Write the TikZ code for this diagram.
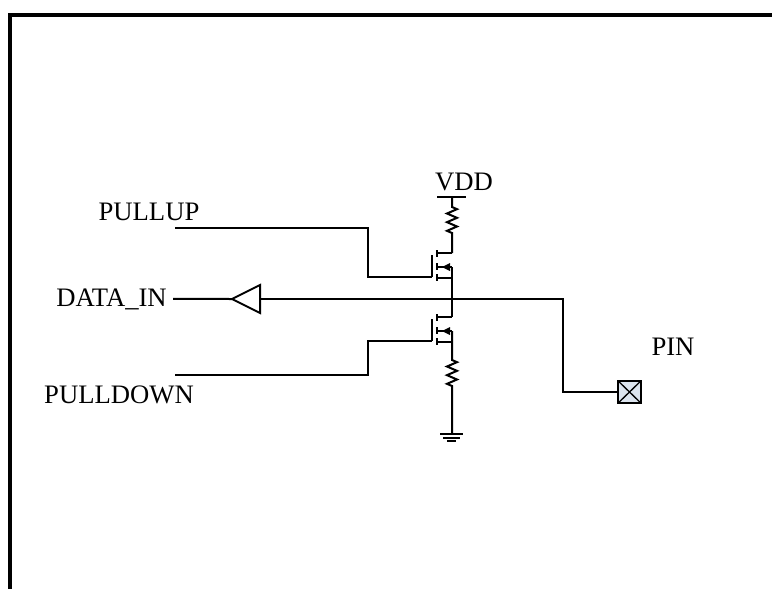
\documentclass[tikz,border=0pt]{standalone}
\usepackage{fontspec}
\setmainfont{Liberation Serif}
\usetikzlibrary{decorations.pathmorphing}

\definecolor{padfill}{HTML}{DCE4EE}

\begin{document}
\begin{tikzpicture}[
            x=0.75pt, y=-0.75pt,
            wire/.style={line width=1.5pt},
            lbl/.style={font=\fontsize{20}{24}\selectfont, inner sep=0pt, anchor=base},
            res/.style={decoration={zigzag, amplitude=3.75pt, segment length=6.5pt}},
            pad/.style={
                draw, line width=1.5pt, fill=padfill,
                minimum width=17pt, minimum height=16.5pt, inner sep=0pt,
                path picture={
                    \draw[line width=1pt] (path picture bounding box.north west) -- (path picture bounding box.south east)
                        (path picture bounding box.south west) -- (path picture bounding box.north east);
                }
            }
        ]
            \useasboundingbox (0,0) rectangle (772,589);
            % frame
            \draw[line width=3pt] (10,589) -- (10,15) -- (772,15);

            % labels
            \node[lbl] (vddlbl) at (464,190) {VDD};
            \node[lbl] (pulluplbl) at (149,220) {PULLUP};
            \node[lbl] (pulldownlbl) at (119,403) {PULLDOWN};
            \node[lbl, anchor=base east, inner xsep=4.5pt] (datainlbl) at (173,306) {DATA\_IN};
            \node[lbl] (pinlbl) at (673,355) {PIN};

            % the two transistors, drawn alike
            \foreach \q/\yy in {qu/253, qd/317} {
                \draw[wire] (432,\yy+2) -- (432,\yy+24) coordinate (\q-g);
                \draw[wire] (437,\yy-3) -- (437,\yy+4)
                            (437,\yy+10) -- (437,\yy+17)
                            (437,\yy+21) -- (437,\yy+28);
                \draw[wire] (437,\yy) -- (452,\yy) coordinate (\q-d);
                \draw[wire] (437,\yy+25) -- (452,\yy+25);
                \draw[wire] (437,\yy+14) -- (452,\yy+14) coordinate (\q-s);
                \fill (442,\yy+14) -- (450,\yy+10) -- (450,\yy+18) -- cycle;
            }

            % supply, resistors and ground
            \coordinate (vdd) at (452,197);
            \coordinate (gnd) at (452,434);
            \draw[wire] (437,197) -- (466,197);
            \draw[wire] (vdd) -- (452,207) decorate[res]{-- (452,233)} -- (qu-d);
            \draw[wire] (qu-s) -- (qd-d);
            \draw[wire] (qd-s) -- (452,360) decorate[res]{-- (452,388)} -- (gnd);
            \draw[wire] (440,434) -- (463,434) (443,438) -- (460,438) (447,441) -- (456,441);

            % gates
            \coordinate (pu) at (175,228);
            \coordinate (pd) at (175,375);
            \draw[wire] (pu) -| (368,277) -- (qu-g);
            \draw[wire] (pd) -| (368,341) -- (qd-g);

            % input buffer and pad
            \draw[wire] (260,285) -- (232,299) coordinate (buftip) -- (260,313) -- cycle;
            \coordinate (bufin) at (260,299);
            \draw[wire] (datainlbl) -- (buftip);
            \node[pad] (pinpad) at (629.5,392) {};
            \draw[wire] (bufin) -- (563,299) |- (pinpad);
        \end{tikzpicture}
\end{document}
